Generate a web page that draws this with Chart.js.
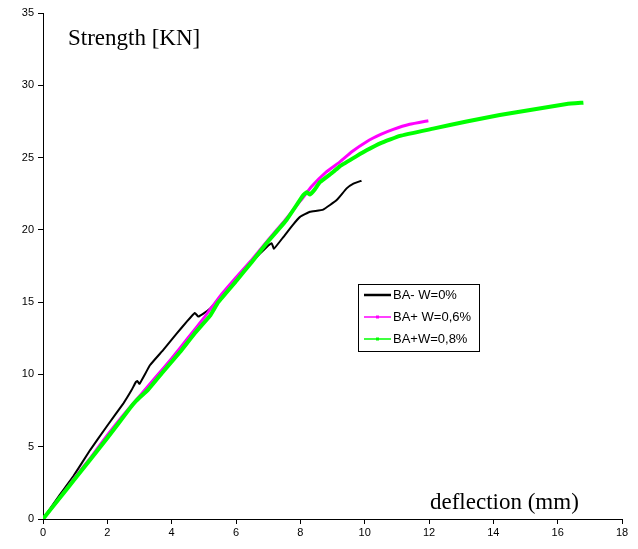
<!DOCTYPE html>
<html>
<head>
<meta charset="utf-8">
<script src="https://cdn.jsdelivr.net/npm/chart.js@4.4.0/dist/chart.umd.min.js"></script>
<style>
  body { margin: 0; background: #fff; }
  #wrap { width: 638px; height: 549px; position: relative; }
</style>
</head>
<body>
<div id="wrap"><canvas id="chart"></canvas></div>
<script>
// series labels
const labels = ['BA- W=0%', 'BA+ W=0,6%', 'BA+W=0,8%'];

// deflection (mm) / strength (KN)
const blackX = [0,0.5,0.94,1.46,1.98,2.5,2.75,2.88,2.93,3.0,3.33,3.74,4.16,4.47,4.72,4.83,5.14,5.5,6.0,6.54,6.95,7.11,7.18,7.47,7.75,7.99,8.3,8.71,9.13,9.44,9.65,9.9];
const blackY = [0,1.6,2.95,4.75,6.4,8.0,8.9,9.45,9.55,9.35,10.65,11.7,12.84,13.65,14.25,14.0,14.45,15.3,16.6,17.9,18.8,19.07,18.7,19.5,20.3,20.9,21.25,21.4,22.06,22.87,23.2,23.4];

const pinkX = [0,0.5,1.0,1.5,2.0,2.5,3.0,3.5,4.0,4.5,5.0,5.5,6.0,6.5,7.0,7.5,8.0,8.35,8.8,9.23,9.6,10.06,10.5,10.89,11.4,11.98];
const pinkY = [0,1.4,2.9,4.3,5.8,7.2,8.5,9.8,11.1,12.5,13.9,15.4,16.7,17.95,19.3,20.6,22.0,23.0,24.0,24.7,25.4,26.1,26.6,26.95,27.3,27.55];

const greenX = [0,0.5,1.0,1.46,2.0,2.7,2.91,3.27,3.7,4.26,4.7,5.19,5.45,6.02,6.5,6.95,7.57,8.09,8.2,8.3,8.45,8.61,9.02,9.23,9.75,10.06,10.5,11.1,12.13,13.17,14.2,15.24,16.28,16.8];
const greenY = [0,1.4,2.8,4.08,5.6,7.65,8.2,8.95,10.1,11.55,12.8,14.05,15.0,16.5,17.8,19.07,20.68,22.4,22.6,22.45,22.8,23.3,24.0,24.4,25.1,25.5,26.0,26.5,27.0,27.5,27.94,28.33,28.7,28.8];

const xTicks = [0,2,4,6,8,10,12,14,16,18];
const yTicks = [0,5,10,15,20,25,30,35];

function pts(xs, ys) {
  return xs.map((x, i) => ({x: x, y: ys[i]}));
}

// axis titles and the boxed legend sit inside the plot
const extras = {
  id: 'extras',
  afterDraw(chart) {
    const ctx = chart.ctx;
    ctx.save();
    ctx.fillStyle = '#000';
    ctx.font = '23px "Liberation Serif", "Times New Roman", serif';
    ctx.textBaseline = 'alphabetic';
    ctx.textAlign = 'left';
    ctx.fillText('Strength [KN]', 68, 45);
    ctx.fillText('deflection (mm)', 430, 509);

    // legend
    const bx = 358, by = 284, bw = 121, bh = 67;
    ctx.lineWidth = 1;
    ctx.strokeStyle = '#000';
    ctx.strokeRect(bx + 0.5, by + 0.5, bw, bh);
    ctx.font = '13px "Liberation Sans", Arial, sans-serif';
    ctx.textBaseline = 'middle';
    chart.data.datasets.forEach((ds, i) => {
      const y = by + 11 + i * 22;
      ctx.strokeStyle = ds.borderColor;
      ctx.lineWidth = i === 0 ? 2.5 : 1.5;
      ctx.beginPath();
      ctx.moveTo(364, y);
      ctx.lineTo(391, y);
      ctx.stroke();
      if (i > 0) {
        ctx.fillStyle = ds.borderColor;
        ctx.fillRect(376, y - 1.5, 3, 3);
      }
      ctx.fillStyle = '#000';
      ctx.fillText(ds.label, 393, y);
    });
    ctx.restore();
  }
};

new Chart(document.getElementById('chart'), {
  type: 'scatter',
  data: {
    datasets: [
      {label: labels[0], data: pts(blackX, blackY), borderColor: '#000000', borderWidth: 2, order: 2},
      {label: labels[1], data: pts(pinkX, pinkY), borderColor: '#ff00ff', borderWidth: 3, order: 1},
      {label: labels[2], data: pts(greenX, greenY), borderColor: '#00ff00', borderWidth: 4, order: 0}
    ].map(d => Object.assign(d, {showLine: true, pointRadius: 0, fill: false, tension: 0.1, backgroundColor: d.borderColor}))
  },
  options: {
    responsive: true,
    maintainAspectRatio: false,
    animation: false,
    layout: {padding: {top: 13, right: 16, left: 0, bottom: 0}},
    plugins: {legend: {display: false}, tooltip: {enabled: false}},
    scales: {
      x: {
        type: 'linear', min: 0, max: 18,
        afterBuildTicks: s => { s.ticks = xTicks.map(v => ({value: v})); },
        afterFit: s => { s.height = 30; },
        grid: {drawOnChartArea: false, drawTicks: true, tickLength: 5, color: '#000'},
        border: {color: '#000', width: 1},
        ticks: {color: '#000', font: {family: '"Liberation Sans", Arial', size: 11}, padding: 2, maxRotation: 0}
      },
      y: {
        type: 'linear', min: 0, max: 35,
        afterBuildTicks: s => { s.ticks = yTicks.map(v => ({value: v})); },
        afterFit: s => { s.width = 43; },
        grid: {drawOnChartArea: false, drawTicks: true, tickLength: 5, color: '#000'},
        border: {color: '#000', width: 1},
        ticks: {color: '#000', font: {family: '"Liberation Sans", Arial', size: 11}, padding: 4}
      }
    }
  },
  plugins: [extras]
});
</script>
</body>
</html>
